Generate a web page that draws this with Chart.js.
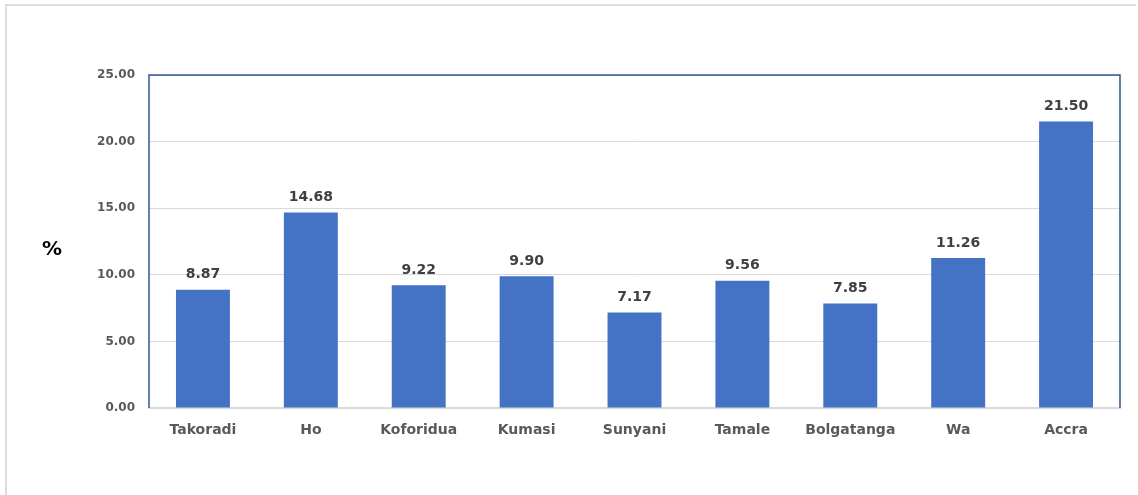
<!DOCTYPE html>
<html>
<head>
<meta charset="utf-8">
<script src="https://cdn.jsdelivr.net/npm/chart.js@4/dist/chart.umd.min.js"></script>
<style>
  body { margin: 0; background: #fff; overflow: hidden; }
  #frame { position: absolute; left: 5px; top: 4px; width: 1129px; height: 600px; border: 2px solid #dcdcdc; border-right: none; }
  #wrap { position: absolute; left: 0; top: 0; width: 1138px; height: 495px; }
</style>
</head>
<body>
<div id="frame"></div>
<div id="wrap"><canvas id="regionChart"></canvas></div>
<script>
const cities = ['Takoradi', 'Ho', 'Koforidua', 'Kumasi', 'Sunyani', 'Tamale', 'Bolgatanga', 'Wa', 'Accra'];
const shares = [8.87, 14.68, 9.22, 9.90, 7.17, 9.56, 7.85, 11.26, 21.50];
const yTicks = [0, 5, 10, 15, 20, 25];

const FONT = "'DejaVu Sans', Verdana, sans-serif";

// value labels over each bar + blue frame around the plot + "%" axis note
const barExtras = {
    id: 'barExtras',
    afterDatasetsDraw(chart) {
        const ctx = chart.ctx;
        const meta = chart.getDatasetMeta(0);
        ctx.save();
        ctx.font = 'bold 14px ' + FONT;
        ctx.fillStyle = '#404040';
        ctx.textAlign = 'center';
        ctx.textBaseline = 'bottom';
        meta.data.forEach((bar, i) => {
            ctx.fillText(shares[i].toFixed(2), bar.x, bar.y - 8);
        });
        ctx.restore();
    },
    afterDraw(chart) {
        const { ctx, chartArea: a } = chart;
        ctx.save();
        ctx.strokeStyle = '#2F5597';
        ctx.lineWidth = 1.5;
        ctx.beginPath();
        ctx.moveTo(a.left, a.bottom);
        ctx.lineTo(a.left, a.top);
        ctx.lineTo(a.right, a.top);
        ctx.lineTo(a.right, a.bottom);
        ctx.stroke();

        ctx.font = 'bold 20px ' + FONT;
        ctx.fillStyle = '#000';
        ctx.textAlign = 'center';
        ctx.textBaseline = 'middle';
        ctx.fillText('%', a.left - 97, (a.top + a.bottom) / 2 + 8);
        ctx.restore();
    }
};

new Chart(document.getElementById('regionChart'), {
    type: 'bar',
    data: {
        labels: cities,
        datasets: [{
            data: shares,
            backgroundColor: '#4472C4',
            categoryPercentage: 1,
            barPercentage: 0.5
        }]
    },
    options: {
        responsive: true,
        maintainAspectRatio: false,
        animation: false,
        layout: { padding: { top: 75, right: 18, left: 0, bottom: 0 } },
        plugins: {
            legend: { display: false },
            tooltip: { enabled: false }
        },
        scales: {
            x: {
                grid: { display: false, drawTicks: false },
                border: { color: '#d9d9d9', width: 2 },
                ticks: {
                    padding: 14,
                    color: '#595959',
                    font: { family: FONT, size: 14, weight: 'bold' }
                },
                afterFit(scale) { scale.height = 87; }
            },
            y: {
                min: 0,
                max: 25,
                afterBuildTicks(scale) { scale.ticks = yTicks.map(v => ({ value: v })); },
                grid: { color: '#d9d9d9', drawTicks: false },
                border: { display: false },
                ticks: {
                    padding: 14,
                    color: '#595959',
                    font: { family: FONT, size: 12, weight: 'bold' },
                    callback: v => v.toFixed(2)
                },
                afterFit(scale) { scale.width = 149; }
            }
        }
    },
    plugins: [barExtras]
});
</script>
</body>
</html>
